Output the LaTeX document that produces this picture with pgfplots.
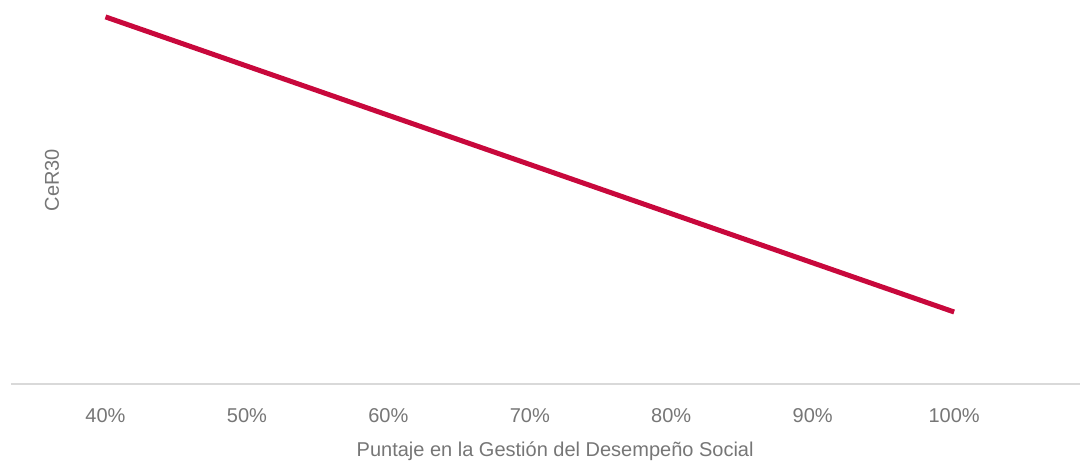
\documentclass[border=0pt]{standalone}
\usepackage{pgfplots}
\pgfplotsset{compat=1.18}
\usepackage{fontspec}
\setmainfont{Liberation Sans}
\definecolor{linered}{RGB}{200,8,60}
\definecolor{txtgray}{RGB}{118,118,118}
\definecolor{axgray}{RGB}{217,217,217}
\begin{document}
\begin{tikzpicture}
\begin{axis}[
  at={(0pt,0pt)}, anchor=origin,
  scale only axis,
  width=534.5pt, height=192pt,
  xmin=33.32, xmax=108.9,
  ymin=0, ymax=1,
  axis x line*=bottom,
  axis y line=none,
  axis line style={axgray, line width=0.6pt},
  xtick={40,50,60,70,80,90,100},
  xticklabels={40\%,50\%,60\%,70\%,80\%,90\%,100\%},
  major tick length=0pt,
  ytick=\empty,
  xticklabel style={anchor=base, yshift=-19pt, font=\fontsize{10pt}{12pt}\selectfont, text=txtgray},
  /pgf/number format/assume math mode=true,
  xlabel={Puntaje en la Gestión del Desempeño Social},
  xlabel style={at={(axis description cs:0.509,-0.1745)}, anchor=center, font=\fontsize{10pt}{12pt}\selectfont, text=txtgray},
  clip=false,
]
\addplot[linered, line width=2.5pt] coordinates {(40,0.956) (100,0.1875)};
% vertical axis title (the y axis itself is hidden)
\node[rotate=90, anchor=center, text=txtgray, font=\fontsize{10pt}{12pt}\selectfont]
  at (axis description cs:0.0384,0.531) {CeR30};
\end{axis}
\pgfresetboundingbox
\path (-5.5pt,-38.5pt) rectangle (534.5pt,192pt);
\end{tikzpicture}
\end{document}
